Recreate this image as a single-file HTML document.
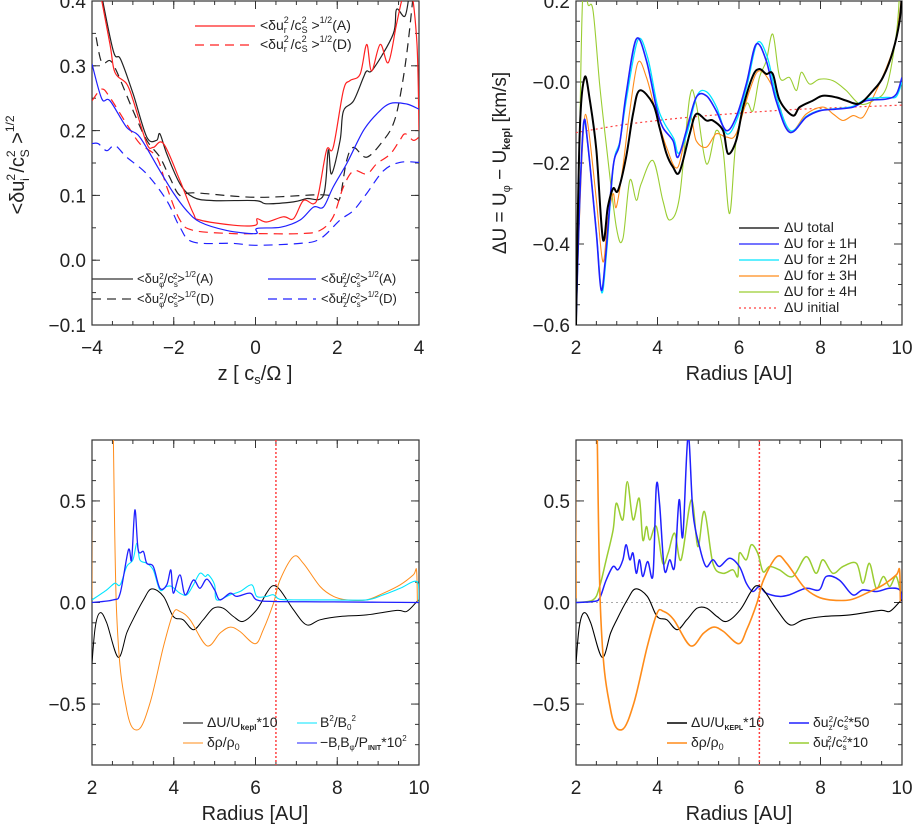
<!DOCTYPE html>
<html><head><meta charset="utf-8"><style>
html,body{margin:0;padding:0;background:#fff;}
svg{display:block;font-family:"Liberation Sans","DejaVu Sans",sans-serif;}
</style></head><body>
<svg id="fig" width="913" height="825" viewBox="0 0 913 825" xmlns="http://www.w3.org/2000/svg">
<defs>
<clipPath id="c1"><rect x="92" y="1" width="327" height="324"/></clipPath>
<clipPath id="c2"><rect x="576" y="1" width="326" height="324"/></clipPath>
<clipPath id="c3"><rect x="92" y="440" width="327" height="325"/></clipPath>
<clipPath id="c4"><rect x="576" y="440" width="326" height="325"/></clipPath>
</defs>
<g id="p1"></g>
<g id="p2"></g>
<g id="p3"></g>
<g id="p4"></g>

<!-- axis titles -->
<text x="255" y="380" font-size="20" text-anchor="middle" fill="#222">z [ c<tspan font-size="13" dy="4">s</tspan><tspan dy="-4">/Ω ]</tspan></text>
<text transform="translate(24,165) rotate(-90)" font-size="20" text-anchor="middle" fill="#222">&lt;δu<tspan font-size="12" dy="-9">2</tspan><tspan font-size="12" dx="-7" dy="14">i</tspan><tspan dy="-5"> /c</tspan><tspan font-size="12" dy="-9">2</tspan><tspan font-size="12" dx="-7" dy="14">S</tspan><tspan dy="-5"> &gt;</tspan><tspan font-size="12" dy="-10">1/2</tspan></text>
<text x="739" y="380" font-size="20" text-anchor="middle" fill="#222">Radius [AU]</text>
<text transform="translate(506,163) rotate(-90)" font-size="19" text-anchor="middle" fill="#222">ΔU = U<tspan font-size="11" dy="4">φ</tspan><tspan dy="-4"> − U</tspan><tspan font-size="11" dy="4" font-weight="bold">kepl</tspan><tspan dy="-4"> [km/s]</tspan></text>
<text x="255" y="820" font-size="20" text-anchor="middle" fill="#222">Radius [AU]</text>
<text x="739" y="820" font-size="20" text-anchor="middle" fill="#222">Radius [AU]</text>

<!-- legends panel 1 -->
<g font-size="14" fill="#222">
<line x1="195" y1="26" x2="255" y2="26" stroke="#ff2020" stroke-width="1.3"/>
<text x="260" y="30">&lt;δu<tspan font-size="9" dy="-7">2</tspan><tspan font-size="9" dx="-5" dy="10">r</tspan><tspan dy="-3"> /c</tspan><tspan font-size="9" dy="-7">2</tspan><tspan font-size="9" dx="-5" dy="10">S</tspan><tspan dy="-3"> &gt;</tspan><tspan font-size="9" dy="-7">1/2</tspan><tspan dy="7">(A)</tspan></text>
<line x1="195" y1="45" x2="255" y2="45" stroke="#ff2020" stroke-width="1.3" stroke-dasharray="9,6"/>
<text x="260" y="49">&lt;δu<tspan font-size="9" dy="-7">2</tspan><tspan font-size="9" dx="-5" dy="10">r</tspan><tspan dy="-3"> /c</tspan><tspan font-size="9" dy="-7">2</tspan><tspan font-size="9" dx="-5" dy="10">S</tspan><tspan dy="-3"> &gt;</tspan><tspan font-size="9" dy="-7">1/2</tspan><tspan dy="7">(D)</tspan></text>
</g>
<g font-size="13" fill="#222">
<line x1="92" y1="279" x2="133" y2="279" stroke="#333" stroke-width="1.2"/>
<text x="137" y="283">&lt;δu<tspan font-size="8" dy="4">φ</tspan><tspan font-size="8" dx="-5" dy="-8">2</tspan><tspan dy="4">/c</tspan><tspan font-size="8" dy="4">s</tspan><tspan font-size="8" dx="-5" dy="-8">2</tspan><tspan dy="4">&gt;</tspan><tspan font-size="8" dy="-6">1/2</tspan><tspan dy="6">(A)</tspan></text>
<line x1="92" y1="299" x2="133" y2="299" stroke="#333" stroke-width="1.2" stroke-dasharray="9,6"/>
<text x="137" y="303">&lt;δu<tspan font-size="8" dy="4">φ</tspan><tspan font-size="8" dx="-5" dy="-8">2</tspan><tspan dy="4">/c</tspan><tspan font-size="8" dy="4">s</tspan><tspan font-size="8" dx="-5" dy="-8">2</tspan><tspan dy="4">&gt;</tspan><tspan font-size="8" dy="-6">1/2</tspan><tspan dy="6">(D)</tspan></text>
<line x1="268" y1="279" x2="316" y2="279" stroke="#2020ff" stroke-width="1.2"/>
<text x="321" y="283">&lt;δu<tspan font-size="8" dy="4">z</tspan><tspan font-size="8" dx="-5" dy="-8">2</tspan><tspan dy="4">/c</tspan><tspan font-size="8" dy="4">s</tspan><tspan font-size="8" dx="-5" dy="-8">2</tspan><tspan dy="4">&gt;</tspan><tspan font-size="8" dy="-6">1/2</tspan><tspan dy="6">(A)</tspan></text>
<line x1="268" y1="299" x2="316" y2="299" stroke="#2020ff" stroke-width="1.2" stroke-dasharray="9,6"/>
<text x="321" y="303">&lt;δu<tspan font-size="8" dy="4">z</tspan><tspan font-size="8" dx="-5" dy="-8">2</tspan><tspan dy="4">/c</tspan><tspan font-size="8" dy="4">s</tspan><tspan font-size="8" dx="-5" dy="-8">2</tspan><tspan dy="4">&gt;</tspan><tspan font-size="8" dy="-6">1/2</tspan><tspan dy="6">(D)</tspan></text>
</g>

<!-- legend panel 2 -->
<g font-size="14" fill="#222">
<line x1="739" y1="228" x2="779" y2="228" stroke="#000" stroke-width="1.2"/><text x="784" y="232">ΔU  total</text>
<line x1="739" y1="244" x2="779" y2="244" stroke="#2020ff" stroke-width="1.2"/><text x="784" y="248">ΔU  for  ±  1H</text>
<line x1="739" y1="260" x2="779" y2="260" stroke="#00e5ff" stroke-width="1.2"/><text x="784" y="264">ΔU  for  ±  2H</text>
<line x1="739" y1="276" x2="779" y2="276" stroke="#ff8c1a" stroke-width="1.2"/><text x="784" y="280">ΔU  for  ±  3H</text>
<line x1="739" y1="292" x2="779" y2="292" stroke="#9acd32" stroke-width="1.2"/><text x="784" y="296">ΔU  for  ±  4H</text>
<line x1="739" y1="308" x2="779" y2="308" stroke="#ff4040" stroke-width="1.2" stroke-dasharray="2,3"/><text x="784" y="312">ΔU  initial</text>
</g>

<!-- legend panel 3 -->
<g font-size="14" fill="#222">
<line x1="183" y1="723" x2="203" y2="723" stroke="#000" stroke-width="1"/>
<text x="207" y="727">ΔU/U<tspan font-size="8" dy="3" font-weight="bold">kepl</tspan><tspan dy="-3">*10</tspan></text>
<line x1="183" y1="743" x2="203" y2="743" stroke="#ff8c1a" stroke-width="1"/>
<text x="207" y="747">δρ/ρ<tspan font-size="9" dy="3">0</tspan></text>
<line x1="297" y1="723" x2="317" y2="723" stroke="#00e5ff" stroke-width="1"/>
<text x="320" y="727">B<tspan font-size="8" dy="-6">2</tspan><tspan dy="6">/B</tspan><tspan font-size="8" dy="3">0</tspan><tspan font-size="8" dy="-9">2</tspan></text>
<line x1="297" y1="743" x2="317" y2="743" stroke="#2020ff" stroke-width="1"/>
<text x="320" y="747">−B<tspan font-size="8" dy="3">r</tspan><tspan dy="-3">B</tspan><tspan font-size="8" dy="3">φ</tspan><tspan dy="-3">/P</tspan><tspan font-size="7" dy="3" font-weight="bold">INIT</tspan><tspan dy="-3">*10</tspan><tspan font-size="8" dy="-6">2</tspan></text>
</g>

<!-- legend panel 4 -->
<g font-size="14" fill="#222">
<line x1="667" y1="723" x2="687" y2="723" stroke="#000" stroke-width="1.4"/>
<text x="691" y="727">ΔU/U<tspan font-size="7" dy="3" font-weight="bold">KEPL</tspan><tspan dy="-3">*10</tspan></text>
<line x1="667" y1="743" x2="687" y2="743" stroke="#ff8c1a" stroke-width="1.4"/>
<text x="691" y="747">δρ/ρ<tspan font-size="9" dy="3">0</tspan></text>
<line x1="789" y1="723" x2="809" y2="723" stroke="#2020ff" stroke-width="1.4"/>
<text x="813" y="727">δu<tspan font-size="8" dy="3">z</tspan><tspan font-size="8" dx="-4" dy="-8">2</tspan><tspan dy="5">/c</tspan><tspan font-size="8" dy="3">s</tspan><tspan font-size="8" dx="-4" dy="-8">2</tspan><tspan dy="5">*50</tspan></text>
<line x1="789" y1="743" x2="809" y2="743" stroke="#9acd32" stroke-width="1.4"/>
<text x="813" y="747">δu<tspan font-size="8" dy="3">r</tspan><tspan font-size="8" dx="-4" dy="-8">2</tspan><tspan dy="5">/c</tspan><tspan font-size="8" dy="3">s</tspan><tspan font-size="8" dx="-4" dy="-8">2</tspan><tspan dy="5">*10</tspan></text>
</g>
</svg>
<script>
// ---------- Panel 1 data (z in cs/Omega) ----------
const phiA_z = [-3.8,-3.48,-3.3,-2.99,-2.66,-2.42,-2.34,-2.17,-1.85,-1.52,-1.03,0,0.27,0.93,1.25,1.66,1.78,1.86,2.07,2.15,2.4,2.64,2.72,2.88,3.37,3.45,3.66,3.78];
const phiA_v = [0.42,0.323,0.31,0.256,0.19,0.185,0.195,0.164,0.118,0.097,0.092,0.092,0.087,0.09,0.095,0.1,0.17,0.133,0.185,0.23,0.246,0.282,0.292,0.295,0.349,0.387,0.377,0.42];
const rA_z = [-3.82,-3.56,-3.44,-3.15,-2.99,-2.66,-2.5,-2.25,-1.85,-1.52,-1.36,-0.54,0,0.04,0.27,0.68,0.93,1.17,1.42,1.54,1.74,1.9,2.15,2.31,2.56,2.72,2.84,3.05,3.25,3.45,3.62,3.8,3.95,4.0];
const rA_v = [0.42,0.333,0.29,0.272,0.246,0.18,0.174,0.18,0.123,0.072,0.062,0.054,0.054,0.064,0.059,0.067,0.064,0.092,0.087,0.102,0.17,0.174,0.262,0.277,0.287,0.333,0.292,0.333,0.305,0.364,0.41,0.42,0.333,0.2];
const phiD_z = [-3.9,-3.76,-3.56,-3.4,-2.99,-2.66,-2.34,-2.1,-1.85,-1.52,0,1.63,1.96,2.07,2.23,2.4,2.72,3.13,3.37,3.53,3.7,3.86];
const phiD_v = [0.344,0.305,0.308,0.292,0.23,0.185,0.159,0.128,0.1,0.104,0.097,0.101,0.095,0.097,0.154,0.174,0.159,0.185,0.21,0.25,0.318,0.41];
const rD_z = [-4,-3.76,-3.56,-3.15,-2.83,-2.42,-2.17,-1.85,-1.52,-0.54,0,1.09,1.58,1.9,2.15,2.4,2.72,2.97,3.3,3.53,3.66,3.86,4];
const rD_v = [0.246,0.264,0.251,0.21,0.18,0.159,0.113,0.062,0.046,0.041,0.041,0.041,0.046,0.067,0.113,0.138,0.133,0.149,0.164,0.185,0.195,0.185,0.19];
const zA_z = [-4,-3.76,-3.56,-3.15,-2.83,-2.34,-2.0,-1.69,-1.36,-0.71,0,0.04,0.62,1.09,1.42,1.66,1.9,2.23,2.64,2.97,3.3,3.7,4];
const zA_v = [0.303,0.249,0.246,0.205,0.19,0.138,0.103,0.077,0.059,0.046,0.041,0.049,0.051,0.062,0.082,0.082,0.113,0.149,0.2,0.226,0.242,0.241,0.233];
const zD_z = [-4,-3.85,-3.64,-3.44,-3.15,-2.66,-2.17,-1.85,-1.52,-0.54,0,1.09,1.58,2.07,2.4,2.72,3.13,3.53,4];
const zD_v = [0.18,0.18,0.169,0.177,0.159,0.133,0.092,0.051,0.028,0.026,0.023,0.026,0.033,0.062,0.077,0.103,0.138,0.151,0.151];

// ---------- Panel 2 data (Radius AU, km/s) ----------
const tot_r = [2.0,2.09,2.21,2.34,2.5,2.66,2.78,2.91,3.03,3.23,3.4,3.56,3.89,4.05,4.22,4.38,4.54,4.79,4.95,5.2,5.36,5.61,5.73,5.93,6.1,6.34,6.5,6.67,6.83,7.0,7.32,7.49,7.81,8.06,8.39,8.63,8.96,9.29,9.53,9.78,9.94,10];
const tot_v = [-0.6,-0.128,0.011,-0.046,-0.169,-0.388,-0.309,-0.263,-0.268,-0.186,-0.079,-0.021,-0.054,-0.112,-0.177,-0.21,-0.222,-0.128,-0.079,-0.095,-0.095,-0.12,-0.177,-0.145,-0.062,0.015,0.032,0.02,0.02,-0.046,-0.083,-0.062,-0.046,-0.034,-0.038,-0.046,-0.053,-0.021,0.011,0.077,0.151,0.22];
const h1_r = [2.0,2.09,2.19,2.29,2.5,2.62,2.74,2.91,3.07,3.23,3.48,3.73,3.97,4.13,4.38,4.5,4.71,4.95,5.2,5.44,5.69,5.93,6.18,6.42,6.67,6.91,7.24,7.65,7.98,8.39,8.8,9.13,9.62,9.86,10];
const h1_v = [-0.6,-0.292,-0.1,-0.153,-0.374,-0.514,-0.415,-0.21,-0.153,-0.03,0.106,0.052,-0.062,-0.112,-0.145,-0.186,-0.12,-0.038,-0.034,-0.071,-0.12,-0.087,-0.005,0.093,0.052,-0.046,-0.124,-0.087,-0.071,-0.067,-0.062,-0.046,-0.042,-0.03,0.011];
const h2_r = [2.0,2.09,2.19,2.29,2.5,2.63,2.75,2.92,3.08,3.25,3.52,3.76,3.99,4.16,4.4,4.52,4.73,4.97,5.2,5.45,5.7,5.95,6.2,6.45,6.7,6.93,7.26,7.65,7.98,8.39,8.8,9.13,9.62,9.86,10];
const h2_v = [-0.6,-0.29,-0.105,-0.155,-0.37,-0.52,-0.42,-0.205,-0.145,-0.035,0.104,0.06,-0.055,-0.1,-0.14,-0.176,-0.125,-0.034,-0.024,-0.062,-0.128,-0.092,-0.008,0.097,0.06,-0.04,-0.12,-0.085,-0.07,-0.066,-0.06,-0.042,-0.038,-0.036,0.0];
const h3_r = [2.0,2.07,2.19,2.29,2.5,2.66,2.78,2.91,2.99,3.15,3.32,3.52,3.73,3.97,4.22,4.5,4.79,4.95,5.2,5.44,5.69,5.93,6.26,6.5,6.83,7.24,7.65,8.06,8.31,8.55,8.8,9.04,9.29,9.62,9.86,10];
const h3_v = [-0.6,-0.374,-0.112,-0.104,-0.292,-0.444,-0.341,-0.276,-0.309,-0.21,-0.071,0.048,0.011,-0.079,-0.161,-0.21,-0.087,-0.145,-0.161,-0.128,-0.136,-0.128,-0.021,0.028,-0.013,-0.12,-0.079,-0.062,-0.079,-0.095,-0.083,-0.087,-0.038,0.036,0.11,0.22];
const h4_r = [2.0,2.09,2.17,2.3,2.42,2.58,2.74,2.99,3.15,3.32,3.48,3.6,3.89,4.13,4.3,4.54,4.79,4.95,5.2,5.44,5.61,5.77,5.93,6.18,6.34,6.5,6.67,6.83,7.0,7.24,7.41,7.53,7.73,7.98,8.31,8.63,8.96,9.29,9.62,9.86,9.94];
const h4_v = [-0.6,-0.128,0.22,0.19,0.175,-0.005,-0.153,-0.358,-0.387,-0.243,-0.292,-0.251,-0.194,-0.292,-0.341,-0.284,-0.038,-0.054,-0.202,-0.12,-0.169,-0.325,-0.145,-0.054,-0.071,0.011,0.052,0.118,0.011,0.011,-0.021,0.024,-0.005,0.007,0.003,-0.021,-0.054,-0.046,-0.013,0.118,0.22];
const init_r = [2,3,4,5,6,7,8,9,10];
const init_v = [-0.125,-0.108,-0.095,-0.085,-0.077,-0.07,-0.065,-0.061,-0.057];

// ---------- Bottom panels data (Radius AU) ----------
const du_r = [2.0,2.08,2.2,2.36,2.64,2.85,3.0,3.26,3.46,3.75,3.99,4.23,4.48,4.72,4.97,5.21,5.46,5.7,6.03,6.27,6.42,6.6,6.93,7.25,7.58,8.07,8.72,9.46,9.7,9.95,10];
const du_v = [-0.3,-0.12,-0.05,-0.1,-0.27,-0.15,-0.085,0.013,0.067,0.03,-0.069,-0.085,-0.134,-0.085,-0.028,-0.028,-0.069,-0.093,-0.036,0.046,0.082,0.062,-0.036,-0.11,-0.085,-0.069,-0.061,-0.039,-0.044,0.005,0.013];
const rho_r = [2.0,2.01,2.43,2.6,2.85,3.13,3.42,3.75,3.99,4.15,4.4,4.81,5.13,5.38,5.62,5.99,6.19,6.44,6.6,6.93,7.17,7.58,7.91,8.23,8.72,9.13,9.54,9.86,9.94,9.96];
const rho_v = [0.02,1.5,1.5,-0.036,-0.528,-0.626,-0.495,-0.216,-0.052,-0.044,-0.085,-0.213,-0.151,-0.121,-0.143,-0.203,-0.134,-0.003,0.111,0.226,0.193,0.079,0.03,0.013,0.013,0.046,0.087,0.136,0.16,0.005];
const b2_r = [2,2.36,2.56,2.69,2.85,3.0,3.1,3.17,3.34,3.5,3.66,3.83,3.95,4.15,4.32,4.48,4.64,4.77,4.85,5.0,5.05,5.38,5.62,5.91,6.03,6.27,6.44,6.6,7.09,7.91,8.72,9.13,9.54,9.95,10];
const b2_v = [0.013,0.062,0.095,0.087,0.177,0.21,0.292,0.21,0.193,0.16,0.062,0.079,0.079,0.046,0.038,0.087,0.144,0.128,0.136,0.087,0.013,0.038,0.054,0.087,0.03,0.03,0.038,0.016,0.013,0.013,0.013,0.038,0.07,0.103,0.005];
const bb_r = [2,2.52,2.69,2.89,2.97,3.05,3.13,3.26,3.34,3.5,3.66,3.83,3.93,3.99,4.15,4.28,4.48,4.64,4.81,5.0,5.13,5.38,5.54,5.87,6.03,6.44,7.91,10];
const bb_v = [0,0.013,0.046,0.259,0.21,0.456,0.259,0.25,0.193,0.177,0.07,0.087,0.16,0.046,0.136,0.038,0.111,0.07,0.115,0.062,0.013,0.046,0.03,0.046,0.013,0.005,0.003,0];
const uz_r = [2,2.42,2.58,2.74,2.91,3.03,3.15,3.23,3.32,3.4,3.48,3.56,3.64,3.76,3.89,3.97,4.05,4.17,4.3,4.42,4.53,4.62,4.75,4.87,5.03,5.19,5.36,5.52,5.77,6.01,6.18,6.34,6.5,6.67,6.99,7.24,7.65,7.97,8.14,8.46,8.79,9.04,9.37,9.69,9.94,10];
const uz_v = [0,0.005,0.021,0.111,0.177,0.161,0.21,0.284,0.21,0.243,0.144,0.21,0.128,0.202,0.136,0.57,0.489,0.161,0.21,0.177,0.505,0.325,0.82,0.44,0.275,0.177,0.21,0.177,0.218,0.177,0.095,0.054,0.079,0.046,0.03,0.038,0.07,0.062,0.128,0.111,0.038,0.062,0.054,0.07,0.062,0.005];
const ur_r = [2,2.42,2.58,2.74,2.91,2.99,3.15,3.26,3.4,3.55,3.64,3.73,3.81,3.97,4.13,4.26,4.42,4.58,4.83,4.99,5.15,5.36,5.6,5.85,5.97,6.01,6.18,6.3,6.46,6.59,6.75,6.99,7.32,7.65,7.89,8.06,8.3,8.55,8.88,9.04,9.2,9.37,9.54,9.7,9.86,10];
const ur_v = [0,0.013,0.079,0.21,0.357,0.489,0.407,0.595,0.407,0.513,0.308,0.374,0.308,0.374,0.193,0.243,0.341,0.21,0.505,0.275,0.448,0.193,0.144,0.161,0.128,0.243,0.21,0.284,0.243,0.152,0.177,0.161,0.128,0.226,0.144,0.21,0.144,0.177,0.193,0.095,0.193,0.07,0.128,0.079,0.128,0.013];
const vline_r = [6.5];

const NS = 'http://www.w3.org/2000/svg';
function mk(tag, attrs, parent){ const e=document.createElementNS(NS,tag); for(const k in attrs) e.setAttribute(k,attrs[k]); parent.appendChild(e); return e; }
function axes(x0,x1,y0,y1,xmin,xmax,ymin,ymax){
  return {x0,x1,y0,y1,sx:v=>x0+(v-xmin)/(xmax-xmin)*(x1-x0), sy:v=>y1-(v-ymin)/(ymax-ymin)*(y1-y0)};
}
// Catmull-Rom smooth path
function pathD(ax,xs,ys){
  const p=xs.map((x,i)=>[ax.sx(x),ax.sy(ys[i])]);
  let d='M'+p[0][0].toFixed(1)+','+p[0][1].toFixed(1);
  for(let i=0;i<p.length-1;i++){
    const p0=p[Math.max(0,i-1)],p1=p[i],p2=p[i+1],p3=p[Math.min(p.length-1,i+2)];
    const c1=[p1[0]+(p2[0]-p0[0])/6,p1[1]+(p2[1]-p0[1])/6], c2=[p2[0]-(p3[0]-p1[0])/6,p2[1]-(p3[1]-p1[1])/6];
    d+='C'+c1[0].toFixed(1)+','+c1[1].toFixed(1)+' '+c2[0].toFixed(1)+','+c2[1].toFixed(1)+' '+p2[0].toFixed(1)+','+p2[1].toFixed(1);
  }
  return d;
}
function series(g,ax,clip,xs,ys,color,w,dash,name){
  const e=mk('path',{d:pathD(ax,xs,ys),fill:'none',stroke:color,'stroke-width':w,'clip-path':'url(#'+clip+')','stroke-linejoin':'round'},g);
  if(dash) e.setAttribute('stroke-dasharray',dash);
  
  
}
function frame(g,ax,xmaj,xmin,ymaj,ymin,xlab,ylab){
  mk('rect',{x:ax.x0,y:ax.y0,width:ax.x1-ax.x0,height:ax.y1-ax.y0,fill:'none',stroke:'#333','stroke-width':1.2},g);
  const tk=(x1,y1,x2,y2)=>mk('line',{x1,y1,x2,y2,stroke:'#333','stroke-width':1},g);
  xmin.forEach(v=>{const x=ax.sx(v);tk(x,ax.y1,x,ax.y1-4);tk(x,ax.y0,x,ax.y0+4);});
  xmaj.forEach((v,i)=>{const x=ax.sx(v);tk(x,ax.y1,x,ax.y1-8);tk(x,ax.y0,x,ax.y0+8);
    const t=mk('text',{x:x,y:ax.y1+29,'font-size':19,'text-anchor':'middle',fill:'#222'},g);t.textContent=xlab[i];
    
    });
  ymin.forEach(v=>{const y=ax.sy(v);tk(ax.x0,y,ax.x0+4,y);tk(ax.x1,y,ax.x1-4,y);});
  ymaj.forEach((v,i)=>{const y=ax.sy(v);tk(ax.x0,y,ax.x0+8,y);tk(ax.x1,y,ax.x1-8,y);
    const t=mk('text',{x:ax.x0-6,y:y+7,'font-size':19,'text-anchor':'end',fill:'#222'},g);t.textContent=ylab[i];
    
    });
}
function rng(a,b,s){const r=[];for(let v=a;v<=b+1e-9;v+=s)r.push(+v.toFixed(4));return r;}

// Panel 1
const ax1=axes(92,419,1,325,-4,4,-0.1,0.4);
const g1=document.getElementById('p1');
frame(g1,ax1,[-4,-2,0,2,4],rng(-4,4,0.5),[-0.1,0,0.1,0.2,0.3,0.4],rng(-0.1,0.4,0.05),['−4','−2','0','2','4'],['−0.1','0.0','0.1','0.2','0.3','0.4']);
series(g1,ax1,'c1',phiA_z,phiA_v,'#222',1.2,null,'phi-A-line');
series(g1,ax1,'c1',phiD_z,phiD_v,'#222',1.2,'9,6','phi-D-line');
series(g1,ax1,'c1',rA_z,rA_v,'#ff2020',1.2,null,'r-A-line');
series(g1,ax1,'c1',rD_z,rD_v,'#ff2020',1.2,'9,6','r-D-line');
series(g1,ax1,'c1',zA_z,zA_v,'#2020ff',1.2,null,'z-A-line');
series(g1,ax1,'c1',zD_z,zD_v,'#2020ff',1.2,'9,6','z-D-line');

// Panel 2
const ax2=axes(576,902,1,325,2,10,-0.6,0.2);
const g2=document.getElementById('p2');
frame(g2,ax2,[2,4,6,8,10],rng(2,10,0.5),[-0.6,-0.4,-0.2,0,0.2],rng(-0.6,0.2,0.05),['2','4','6','8','10'],['−0.6','−0.4','−0.2','−0.0','0.2']);
series(g2,ax2,'c2',init_r,init_v,'#ff4040',1.2,'2,3','initial-line');
series(g2,ax2,'c2',h4_r,h4_v,'#9acd32',1.1,null,'4H-line');
series(g2,ax2,'c2',h3_r,h3_v,'#ff8c1a',1.1,null,'3H-line');
series(g2,ax2,'c2',h2_r,h2_v,'#00e5ff',1.3,null,'2H-line');
series(g2,ax2,'c2',h1_r,h1_v,'#2020ff',1.6,null,'1H-line');
series(g2,ax2,'c2',tot_r,tot_v,'#000',2,null,'total-line');

// Panel 3
const ax3=axes(92,419,440,765,2,10,-0.8,0.8);
const g3=document.getElementById('p3');
frame(g3,ax3,[2,4,6,8,10],rng(2,10,0.5),[-0.5,0,0.5],rng(-0.8,0.8,0.1),['2','4','6','8','10'],['−0.5','0.0','0.5']);
vline_r.forEach(v=>{const l=mk('line',{x1:ax3.sx(v),y1:ax3.y0,x2:ax3.sx(v),y2:ax3.y1,stroke:'#ff4040','stroke-width':1.5,'stroke-dasharray':'2,2'},g3);
  
  });
series(g3,ax3,'c3',du_r,du_v,'#000',1,null,'du-kepl-line');
series(g3,ax3,'c3',rho_r,rho_v,'#ff8c1a',1,null,'density-line');
series(g3,ax3,'c3',b2_r,b2_v,'#00e5ff',1.1,null,'b2-line');
series(g3,ax3,'c3',bb_r,bb_v,'#2020ff',1.3,null,'maxwell-stress-line');

// Panel 4
const ax4=axes(576,902,440,765,2,10,-0.8,0.8);
const g4=document.getElementById('p4');
frame(g4,ax4,[2,4,6,8,10],rng(2,10,0.5),[-0.5,0,0.5],rng(-0.8,0.8,0.1),['2','4','6','8','10'],['−0.5','0.0','0.5']);
{const l=mk('line',{x1:ax4.sx(2),y1:ax4.sy(0),x2:ax4.sx(6),y2:ax4.sy(0),stroke:'#aaa','stroke-width':1,'stroke-dasharray':'2,3'},g4);
  
  }
vline_r.forEach(v=>{const l=mk('line',{x1:ax4.sx(v),y1:ax4.y0,x2:ax4.sx(v),y2:ax4.y1,stroke:'#ff4040','stroke-width':1.5,'stroke-dasharray':'2,2'},g4);
  
  });
series(g4,ax4,'c4',ur_r,ur_v,'#9acd32',1.5,null,'ur-line');
series(g4,ax4,'c4',uz_r,uz_v,'#2020ff',1.5,null,'uz-line');
series(g4,ax4,'c4',du_r,du_v,'#000',1.1,null,'du-kepl-line');
series(g4,ax4,'c4',rho_r,rho_v,'#ff8c1a',1.6,null,'density-line');
</script>
</body></html>
